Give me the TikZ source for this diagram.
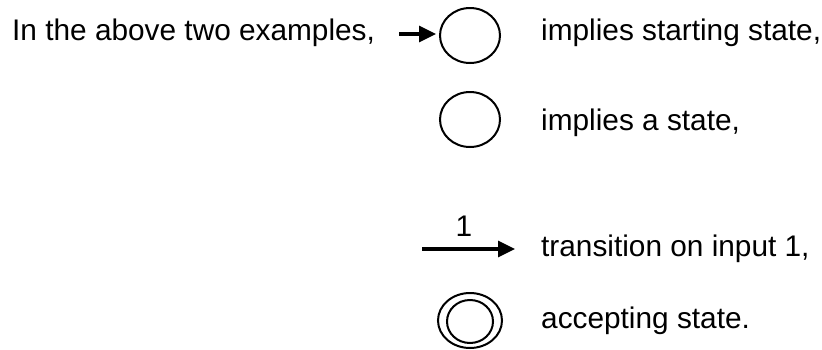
\documentclass[tikz,border=0pt]{standalone}
\usepackage{fontspec}
\setmainfont{Liberation Sans}
\usetikzlibrary{positioning, shapes.geometric, arrows.meta}

\begin{document}
\begin{tikzpicture}[x=1pt, y=1pt, font=\fontsize{29.8}{35}\selectfont,
    st/.style={ellipse, draw, line width=2pt, inner sep=0pt,
               minimum width=60pt, minimum height=55pt},
    lbl/.style={anchor=base west, inner sep=0pt},
    tr/.style={line width=3.2pt, -{Triangle[length=17pt, width=16pt]}}]
    \useasboundingbox (0,0) rectangle (822,-349);
    \node[lbl] (intro) at (12,-40) {In the above two examples,};
    % states
    \node[st] (s0) at (470,-35.5) {};
    \node[st] (s1) at (470,-119.5) {};
    \node[st, minimum width=64pt] (acc) at (470,-320.5) {};
    \node[st, minimum width=46pt, minimum height=43pt] (accin) at (470,-321.5) {};
    % start arrow and transition
    \coordinate (start) at (399,-34);
    \draw[tr, shorten >=3pt] (start) -- (s0.west |- start);
    \coordinate (t0) at (422,-249);
    \coordinate (t1) at (515,-249);
    \draw[tr] (t0) -- node[pos=0.45, above=11pt, inner sep=0pt] (in1) {1} (t1);
    % what each symbol means
    \node[lbl] (d0) at (541,-40) {implies starting state,};
    \node[lbl] (d1) at (541,-130.5) {implies a state,};
    \node[lbl] (d2) at (541,-256) {transition on input 1,};
    \node[lbl] (d3) at (541,-328) {accepting state.};
\end{tikzpicture}
\end{document}
